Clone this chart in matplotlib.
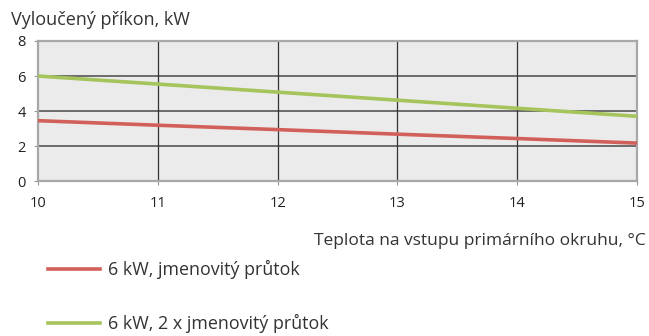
import matplotlib
matplotlib.use("Agg")
import matplotlib.pyplot as plt
from matplotlib.lines import Line2D

plt.rcParams['font.family'] = ['Open Sans', 'DejaVu Sans']

temps = [10, 11, 12, 13, 14, 15]
nominal_flow = [3.45, 3.19, 2.94, 2.68, 2.43, 2.17]
double_flow = [6.0, 5.54, 5.08, 4.62, 4.16, 3.70]
x_ticks = [10, 11, 12, 13, 14, 15]
y_ticks = [0, 2, 4, 6, 8]
series_labels = ["6 kW, jmenovitý průtok", "6 kW, 2 x jmenovitý průtok"]
red = "#d2605a"
green = "#a6c45c"

fig = plt.figure(figsize=(6.49, 3.36), dpi=100)
ax = fig.add_axes([0.0586, 0.461, 0.9229, 0.417])
ax.set_facecolor("#ebebeb")

ax.plot(temps, nominal_flow, color=red, lw=2.6, solid_capstyle="butt", zorder=3)
ax.plot(temps, double_flow, color=green, lw=2.6, solid_capstyle="butt", zorder=3)

ax.set_xlim(10, 15)
ax.set_ylim(0, 8)
ax.set_xticks(x_ticks)
ax.set_yticks(y_ticks)
ax.set_xticklabels([str(t) for t in x_ticks], fontsize=10.5, color="#222222")
ax.set_yticklabels([str(t) for t in y_ticks], fontsize=10.5, color="#222222")
ax.tick_params(axis="x", length=3, width=0.8, color="#999999", pad=8)
ax.tick_params(axis="y", length=3, width=0.8, color="#999999", pad=6)

for y in y_ticks[1:-1]:
    ax.axhline(y, color="#555555", lw=1.2, zorder=1)
for x in x_ticks[1:-1]:
    ax.axvline(x, color="#333333", lw=0.9, zorder=1)
for side in ax.spines.values():
    side.set_color("#a8a8a8")
    side.set_linewidth(1.6)

fig.text(11 / 649, 1 - 20 / 336, "Vyloučený příkon, kW", fontsize=13,
         color="#333333", va="center", ha="left")
fig.text(646 / 649, 1 - 241 / 336, "Teplota na vstupu primárního okruhu, °C",
         fontsize=12.5, color="#333333", va="center", ha="right")

for i, (lab, col) in enumerate(zip(series_labels, [red, green])):
    yy = 1 - (269 + 54 * i) / 336
    fig.add_artist(Line2D([48 / 649, 100 / 649], [yy, yy], color=col, lw=2.6,
                          transform=fig.transFigure))
    fig.text(108 / 649, yy, lab, fontsize=12.9, color="#333333", va="center", ha="left")

fig.savefig("out.png", dpi=100)
